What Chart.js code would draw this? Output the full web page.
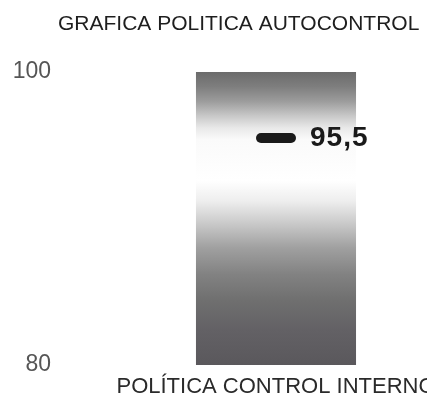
<!DOCTYPE html>
<html>
<head>
<meta charset="utf-8">
<script src="https://cdn.jsdelivr.net/npm/chart.js@4/dist/chart.umd.min.js"></script>
<style>
  html, body { margin: 0; padding: 0; background: #ffffff; }
  #wrap { width: 427px; height: 403px; }
</style>
</head>
<body>
<div id="wrap"><canvas id="c" width="427" height="403"></canvas></div>
<script>
const titleText = 'GRAFICA POLITICA AUTOCONTROL';
const categories = ['POLÍTICA CONTROL INTERNO'];
const barValues = [100];
const markerValues = [95.5];
const markerLabels = ['95,5'];
const yTicks = [80, 100];

const FONT = '"Liberation Sans", Arial, sans-serif';

function barGradient(ctx) {
  const chart = ctx.chart;
  const area = chart.chartArea;
  if (!area) return '#888888';
  const g = chart.ctx.createLinearGradient(0, area.top, 0, area.bottom);
  g.addColorStop(0.00, '#6b6b6b');
  g.addColorStop(0.05, '#7e7e7e');
  g.addColorStop(0.10, '#9c9c9c');
  g.addColorStop(0.15, '#c8c8c8');
  g.addColorStop(0.19, '#e8e8e8');
  g.addColorStop(0.23, '#fafafa');
  g.addColorStop(0.37, '#ffffff');
  g.addColorStop(0.44, '#eeeeee');
  g.addColorStop(0.52, '#c8c8c8');
  g.addColorStop(0.60, '#a0a0a0');
  g.addColorStop(0.69, '#828282');
  g.addColorStop(0.78, '#6f6f6f');
  g.addColorStop(0.88, '#636165');
  g.addColorStop(1.00, '#5a585c');
  return g;
}

const titlePlugin = {
  id: 'titleText',
  afterDraw(chart) {
    const c = chart.ctx;
    c.save();
    c.font = '21px ' + FONT;
    c.fillStyle = '#1e1e1e';
    c.textAlign = 'left';
    c.textBaseline = 'alphabetic';
    c.fillText(titleText, 58, 30);
    c.restore();
  }
};

const markerPlugin = {
  id: 'markerLabel',
  beforeDatasetDraw(chart, args) {
    if (args.index === 1) chart.ctx.lineCap = 'round';
  },
  afterDatasetDraw(chart, args) {
    if (args.index === 1) chart.ctx.lineCap = 'butt';
  },
  afterDatasetsDraw(chart) {
    const meta = chart.getDatasetMeta(1);
    const c = chart.ctx;
    c.save();
    c.font = 'bold 28px ' + FONT;
    if ('letterSpacing' in c) c.letterSpacing = '1px';
    c.fillStyle = '#1a1a1a';
    c.textAlign = 'left';
    c.textBaseline = 'middle';
    meta.data.forEach((pt, i) => {
      c.fillText(markerLabels[i], pt.x + 34, pt.y);
    });
    c.restore();
  }
};

new Chart(document.getElementById('c'), {
  type: 'bar',
  data: {
    labels: categories,
    datasets: [
      {
        type: 'bar',
        data: barValues,
        backgroundColor: barGradient,
        borderWidth: 0,
        barPercentage: 0.53,
        categoryPercentage: 1.0,
        order: 2
      },
      {
        type: 'line',
        data: markerValues,
        showLine: false,
        pointStyle: 'line',
        pointRadius: 15,
        pointBorderWidth: 10,
        pointBorderColor: '#1a1a1a',
        pointBackgroundColor: '#1a1a1a',
        order: 1
      }
    ]
  },
  options: {
    responsive: false,
    animation: false,
    layout: { autoPadding: false, padding: { top: 72, left: 0, right: 0, bottom: 0 } },
    plugins: {
      legend: { display: false },
      tooltip: { enabled: false },
      title: { display: false }
    },
    scales: {
      x: {
        grid: { display: false, drawTicks: false },
        border: { display: false },
        ticks: {
          maxRotation: 0,
          minRotation: 0,
          autoSkip: false,
          padding: 9,
          color: '#2a2a2a',
          font: { family: FONT, size: 22 }
        },
        afterFit(scale) {
          scale.height = 38;
          scale.paddingLeft = 0;
          scale.paddingRight = 0;
        }
      },
      y: {
        min: 80,
        max: 100,
        grid: { display: false, drawTicks: false },
        border: { display: false },
        afterBuildTicks(scale) {
          scale.ticks = yTicks.map(v => ({ value: v }));
        },
        ticks: {
          padding: 74,
          color: '#555555',
          font: { family: FONT, size: 23 }
        },
        afterFit(scale) {
          scale.width = 125;
          scale.paddingTop = 0;
          scale.paddingBottom = 0;
        }
      }
    }
  },
  plugins: [titlePlugin, markerPlugin]
});
</script>
</body>
</html>
